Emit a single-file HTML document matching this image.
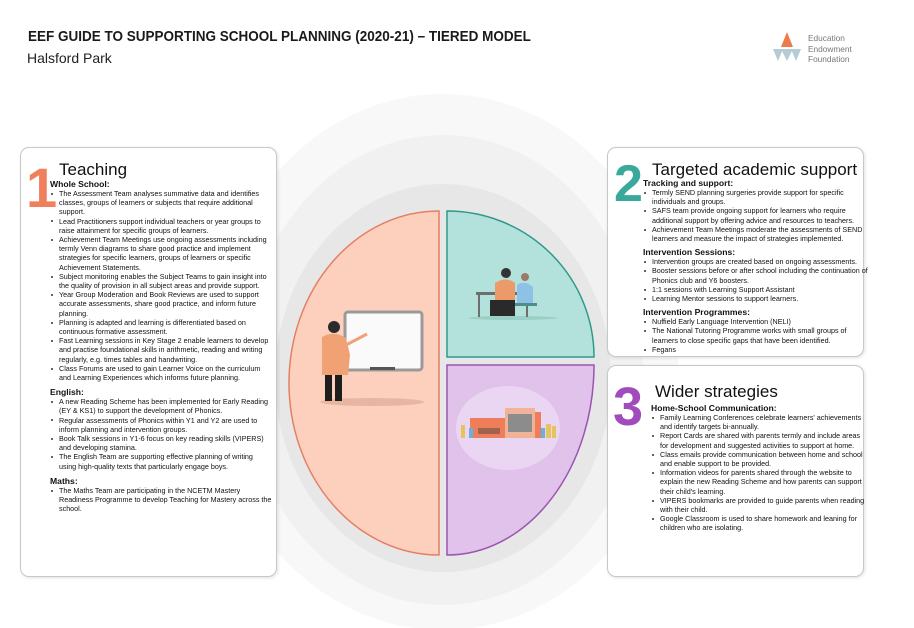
<!DOCTYPE html>
<html><head><meta charset="utf-8"><style>
*{margin:0;padding:0;box-sizing:border-box}
body{width:914px;height:628px;background:#fff;position:relative;overflow:hidden;font-family:"Liberation Sans",Arial,sans-serif;color:#111}
.abs{position:absolute}
.card{position:absolute;background:#fff;border:1px solid #c8c8c8;border-radius:9px;box-shadow:1px 1px 3px rgba(0,0,0,.12)}
.big{position:absolute;font-weight:bold;line-height:1}
.ttl{position:absolute;line-height:1;white-space:nowrap}
.h{font-weight:bold;font-size:8.6px;line-height:10px}
ul{list-style:none;font-size:7.2px;line-height:9.2px}
li{position:relative;padding-left:9px}
li:before{content:"";position:absolute;left:1px;top:3.8px;width:2px;height:2px;background:#333;border-radius:1px}
.sec{position:absolute}
</style></head><body>

<div class="abs" style="left:28px;top:28px;font-weight:bold;font-size:15px;white-space:nowrap;transform-origin:0 0;transform:scaleX(0.9);color:#1a1a1a">EEF GUIDE TO SUPPORTING SCHOOL PLANNING (2020-21) – TIERED MODEL</div>
<div class="abs" style="left:27px;top:50px;font-size:14px;color:#222">Halsford Park</div>

<svg class="abs" style="left:770px;top:30px" width="34" height="34" viewBox="0 0 34 34">
<polygon points="17,2 23,17 11,17" fill="#ee7a4c"/>
<polygon points="3,19 13,19 8,31" fill="#b5cbd6"/>
<polygon points="11,19 23,19 17,31" fill="#b5cbd6"/>
<polygon points="21,19 31,19 26,31" fill="#b5cbd6"/>
</svg>
<div class="abs" style="left:808px;top:33px;font-size:8.3px;line-height:10.5px;color:#777">Education<br>Endowment<br>Foundation</div>

<svg class="abs" style="left:0;top:0" width="914" height="628">
<ellipse cx="443" cy="362" rx="235" ry="268" fill="#f8f8f8"/>
<ellipse cx="443" cy="370" rx="200" ry="235" fill="#f1f1f1"/>
<ellipse cx="443" cy="378" rx="168" ry="194" fill="#e7e7e7"/>
<path d="M439,211 L439,555 A150,172 0 0 1 439,211 Z" fill="#fcd0bd" stroke="#e47f64" stroke-width="1.5"/>
<path d="M447,211 A147,146 0 0 1 594,357 L447,357 Z" fill="#b3e2dc" stroke="#2f9a88" stroke-width="1.5"/>
<path d="M447,365 L594,365 A147,190 0 0 1 447,555 Z" fill="#e0c2ea" stroke="#9a55b0" stroke-width="1.5"/>
<ellipse cx="372" cy="402" rx="52" ry="4" fill="#e8b5a3"/>
<rect x="345" y="312" width="77" height="58" rx="3" fill="#fafafa" stroke="#9a9a9a" stroke-width="3"/>
<rect x="370" y="367" width="25" height="3" fill="#555"/>
<circle cx="334" cy="327" r="6" fill="#2b2b2b"/>
<path d="M322,337 Q334,330 346,338 L350,355 L348,375 L322,375 Z" fill="#f0a275"/>
<line x1="346" y1="345" x2="367" y2="334" stroke="#f0a275" stroke-width="3"/>
<rect x="325" y="375" width="7" height="26" fill="#1e1e1e"/>
<rect x="335" y="375" width="7" height="26" fill="#1e1e1e"/>
<ellipse cx="513" cy="318" rx="45" ry="2" fill="#9bcfc6"/>
<rect x="476" y="292" width="54" height="3" fill="#6e6e6e"/>
<rect x="478" y="295" width="2" height="22" fill="#6e6e6e"/>
<rect x="526" y="295" width="2" height="22" fill="#6e6e6e"/>
<circle cx="506" cy="273" r="5" fill="#333"/>
<path d="M495,283 Q506,276 515,283 L515,300 L495,300 Z" fill="#ec9a68"/>
<rect x="490" y="300" width="25" height="16" fill="#2a2a2a"/>
<circle cx="525" cy="277" r="4" fill="#9c7a6a"/>
<path d="M517,285 Q525,280 533,287 L533,303 L517,303 Z" fill="#8fc1e6"/>
<rect x="515" y="303" width="22" height="3" fill="#4c8e8a"/>
<ellipse cx="508" cy="428" rx="52" ry="42" fill="#ead6f2"/>
<rect x="470" y="418" width="36" height="20" fill="#ee7e5a"/>
<rect x="478" y="428" width="22" height="6" fill="#a0614f"/>
<rect x="505" y="408" width="30" height="30" fill="#f0b39a"/>
<rect x="508" y="414" width="24" height="18" fill="#8c8c8c"/>
<rect x="535" y="412" width="6" height="26" fill="#ee7e5a"/>
<rect x="461" y="425" width="4" height="13" fill="#e6c35b"/>
<rect x="469" y="428" width="4" height="10" fill="#6baee0"/>
<rect x="546" y="424" width="5" height="14" fill="#e6c35b"/>
<rect x="552" y="426" width="4" height="12" fill="#e6c35b"/>
<rect x="541" y="428" width="4" height="10" fill="#6baee0"/>
</svg>

<div class="card" style="left:20px;top:147px;width:257px;height:430px"></div>
<div class="big" style="left:26px;top:160px;font-size:56px;color:#f07f5c">1</div>
<div class="ttl" style="left:59px;top:161px;font-size:17px">Teaching</div>
<div class="sec" style="left:50px;top:179px;width:222px">
<div class="h">Whole School:</div>
<ul>
<li>The Assessment Team analyses summative data and identifies classes, groups of learners or subjects that require additional support.</li>
<li>Lead Practitioners support individual teachers or year groups to raise attainment for specific groups of learners.</li>
<li>Achievement Team Meetings use ongoing assessments including termly Venn diagrams to share good practice and implement strategies for specific learners, groups of learners or specific Achievement Statements.</li>
<li>Subject monitoring enables the Subject Teams to gain insight into the quality of provision in all subject areas and provide support.</li>
<li>Year Group Moderation and Book Reviews are used to support accurate assessments, share good practice, and inform future planning.</li>
<li>Planning is adapted and learning is differentiated based on continuous formative assessment.</li>
<li>Fast Learning sessions in Key Stage 2 enable learners to develop and practise foundational skills in arithmetic, reading and writing regularly, e.g. times tables and handwriting.</li>
<li>Class Forums are used to gain Learner Voice on the curriculum and Learning Experiences which informs future planning.</li>
</ul>
<div class="h" style="margin-top:5px">English:</div>
<ul>
<li>A new Reading Scheme has been implemented for Early Reading (EY &amp; KS1) to support the development of Phonics.</li>
<li>Regular assessments of Phonics within Y1 and Y2 are used to inform planning and intervention groups.</li>
<li>Book Talk sessions in Y1-6 focus on key reading skills (VIPERS) and developing stamina.</li>
<li>The English Team are supporting effective planning of writing using high-quality texts that particularly engage boys.</li>
</ul>
<div class="h" style="margin-top:5px">Maths:</div>
<ul>
<li>The Maths Team are participating in the NCETM Mastery Readiness Programme to develop Teaching for Mastery across the school.</li>
</ul>
</div>

<div class="card" style="left:607px;top:147px;width:257px;height:210px"></div>
<div class="big" style="left:614px;top:158px;font-size:52px;color:#3aa99b">2</div>
<div class="ttl" style="left:652px;top:161px;font-size:17px">Targeted academic support</div>
<div class="sec" style="left:643px;top:178px;width:228px">
<div class="h">Tracking and support:</div>
<ul>
<li>Termly SEND planning surgeries provide support for specific individuals and groups.</li>
<li>SAFS team provide ongoing support for learners who require additional support by offering advice and resources to teachers.</li>
<li>Achievement Team Meetings moderate the assessments of SEND learners and measure the impact of strategies implemented.</li>
</ul>
<div class="h" style="margin-top:4px">Intervention Sessions:</div>
<ul>
<li>Intervention groups are created based on ongoing assessments.</li>
<li>Booster sessions before or after school including the continuation of Phonics club and Y6 boosters.</li>
<li>1:1 sessions with Learning Support Assistant</li>
<li>Learning Mentor sessions to support learners.</li>
</ul>
<div class="h" style="margin-top:4px">Intervention Programmes:</div>
<ul>
<li>Nuffield Early Language Intervention (NELI)</li>
<li>The National Tutoring Programme works with small groups of learners to close specific gaps that have been identified.</li>
<li>Fegans</li>
</ul>
</div>

<div class="card" style="left:607px;top:365px;width:257px;height:212px"></div>
<div class="big" style="left:613px;top:380px;font-size:54px;color:#a04cbd">3</div>
<div class="ttl" style="left:655px;top:383px;font-size:17px">Wider strategies</div>
<div class="sec" style="left:651px;top:403px;width:215px">
<div class="h">Home-School Communication:</div>
<ul>
<li>Family Learning Conferences celebrate learners' achievements and identify targets bi-annually.</li>
<li>Report Cards are shared with parents termly and include areas for development and suggested activities to support at home.</li>
<li>Class emails provide communication between home and school and enable support to be provided.</li>
<li>Information videos for parents shared through the website to explain the new Reading Scheme and how parents can support their child's learning.</li>
<li>VIPERS bookmarks are provided to guide parents when reading with their child.</li>
<li>Google Classroom is used to share homework and leaning for children who are isolating.</li>
</ul>
</div>

</body></html>
